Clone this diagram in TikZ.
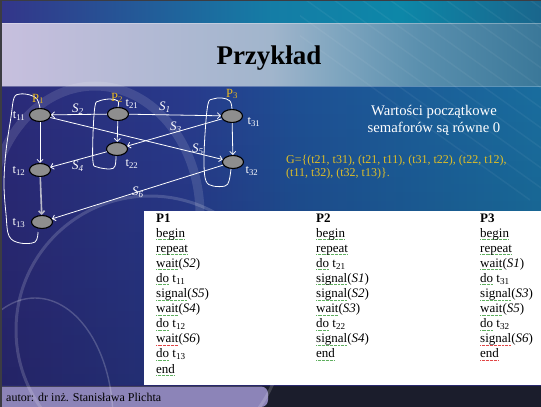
\documentclass[tikz,border=0pt]{standalone}
\usepackage{fontspec}
\setmainfont{Liberation Serif}
\usetikzlibrary{shapes.geometric,arrows.meta,fadings}

\definecolor{sqgreen}{RGB}{95,175,95}
\definecolor{sqred}{RGB}{225,70,70}
\definecolor{plabel}{RGB}{232,184,32}
\definecolor{gtext}{RGB}{222,190,40}
\definecolor{nodegray}{RGB}{142,142,142}
\definecolor{framegray}{RGB}{60,60,66}
\definecolor{footbg}{RGB}{140,132,184}
\definecolor{bottombg}{RGB}{27,29,44}
\definecolor{bottomedge}{RGB}{40,40,110}
\definecolor{seqline}{RGB}{185,185,200}

% spell-check style dotted underlines
\newsavebox\sqbox
\newcommand\sqline[2]{\leavevmode\sbox\sqbox{#2}\rlap{\raisebox{-2.6pt}[0pt][0pt]{\textcolor{#1}{\hbox to \wd\sqbox{\xleaders\hbox{\rule{0.8pt}{0.6pt}\kern0.5pt}\hfill}}}}\usebox\sqbox}
\newcommand\sqg[1]{\sqline{sqgreen}{#1}}
\newcommand\sqr[1]{\sqline{sqred}{#1}}

% slide background gradients (visible part is 25bp..75bp)
\pgfdeclarehorizontalshading{topband}{100bp}{rgb(0bp)=(0.20,0.21,0.54); rgb(25bp)=(0.20,0.21,0.54); rgb(50bp)=(0.08,0.49,0.65); rgb(62bp)=(0.05,0.53,0.66); rgb(75bp)=(0.10,0.40,0.55); rgb(100bp)=(0.10,0.40,0.55)}
\pgfdeclarehorizontalshading{titleband}{100bp}{rgb(0bp)=(0.78,0.75,0.87); rgb(25bp)=(0.78,0.75,0.87); rgb(50bp)=(0.63,0.71,0.80); rgb(56bp)=(0.50,0.65,0.75); rgb(64bp)=(0.35,0.56,0.68); rgb(75bp)=(0.23,0.47,0.60); rgb(100bp)=(0.23,0.47,0.60)}
\pgfdeclarehorizontalshading{mainbg}{100bp}{rgb(0bp)=(0.17,0.165,0.47); rgb(25bp)=(0.17,0.165,0.47); rgb(42bp)=(0.16,0.23,0.55); rgb(52bp)=(0.12,0.31,0.58); rgb(75bp)=(0.10,0.43,0.62); rgb(100bp)=(0.10,0.43,0.62)}

\begin{document}
\begin{tikzpicture}[x=1pt,y=-1pt,
  tnode/.style={ellipse, draw=black, line width=1.1pt, fill=nodegray, minimum width=21pt, minimum height=13pt, inner sep=0pt},
  edge/.style={white, line width=0.8pt, -{Straight Barb[length=3pt,width=6pt]}},
  loopline/.style={white, line width=0.8pt},
  tlab/.style={white, font=\fontsize{12.5}{14}\selectfont, inner sep=0pt},
  slab/.style={white, font=\fontsize{13}{15}\selectfont\itshape, inner sep=0pt},
  plab/.style={plabel, font=\fontsize{12.5}{14}\selectfont, inner sep=0pt},
  code/.style={black, font=\fontsize{13}{15}\selectfont, inner sep=0pt, anchor=base west},
]
\useasboundingbox (0,0) rectangle (541,407);

% frame and bands
\fill[framegray] (0,0) rectangle (541,407);
\shade[shading=topband] (2,1) rectangle (541,23);
\shade[shading=titleband] (2,23) rectangle (541,86);
\shade[shading=mainbg] (2,86) rectangle (541,385);
\fill[black, fill opacity=0.15, path fading=north] (2,86) rectangle (541,385);
\draw[white, opacity=0.3, line width=0.6pt] (2,23) -- (541,23);
\draw[white, opacity=0.3, line width=0.6pt] (2,86) -- (541,86);
\fill[bottombg] (2,385) rectangle (541,407);
\draw[bottomedge, line width=1pt] (2,385.5) -- (541,385.5);

% diagonal streaks on the right
\begin{scope}
  \clip (300,1) rectangle (541,210);
  \foreach \k in {0,...,10}
    \draw[white, opacity=0.05, line width=1.5pt] (250+28*\k,0) -- (530+28*\k,200);
\end{scope}

% footer box
\fill[footbg] (2,407) -- (2,386.5) {[rounded corners=7pt] -- (268,386.5) -- (268,407)} -- cycle;

% decorative rings
\begin{scope}
  \clip (2,86) rectangle (541,407);
  \draw[white, opacity=0.16, line width=3pt] (150,330) circle[radius=134pt];
  \draw[white, opacity=0.2, line width=1.4pt] (35,420) ellipse[x radius=78pt, y radius=122pt];
\end{scope}
\begin{scope}
  \clip (2,80) rectangle (541,250);
  \draw[white, opacity=0.12, line width=9pt] (95,215) ellipse[x radius=105pt, y radius=129pt];
\end{scope}

% code panel
\fill[white] (144,211) rectangle (541,385);

% title
\node[font=\fontsize{27}{30}\selectfont\bfseries, anchor=base, inner sep=0pt] (title) at (269,64) {Przykład};

% process graph
\node[tnode] (t11) at (40,115) {};
\node[tnode] (t21) at (118,114) {};
\node[tnode] (t31) at (232,116) {};
\node[tnode] (t22) at (117,149) {};
\node[tnode] (t12) at (40,170) {};
\node[tnode] (t32) at (233,162) {};
\node[tnode] (t13) at (42,222) {};

\draw[edge] (t21) -- (t11);
\draw[edge] (t21) -- (t31);
\draw[edge] (t31) -- (t22);
\draw[edge] (t11) -- (t32);
\draw[edge] (t22) -- (t12);
\draw[edge] (t32) -- (t13);
\draw[edge] (t11) -- (t12);
\draw[edge] (t21) -- (t22);
\draw[edge] (t31) -- (t32);
\draw[edge, seqline, line width=1.6pt] (t12) -- (t13);

% process outlines
\draw[loopline] plot[smooth, tension=0.6] coordinates {(40,108) (37,99) (30,95) (20,94) (14,98) (11,117) (6,151) (4,184) (6,214) (9,236) (20,243) (35,242) (38,232)};
\draw[loopline] plot[smooth, tension=0.6] coordinates {(118,107) (118,101) (110,99) (99,101) (95,106) (93,134) (93,162) (97,167) (110,169) (115,166) (116,156)};
\draw[loopline] plot[smooth, tension=0.6] coordinates {(232,109) (230,101) (222,98) (213,99) (208,104) (205,134) (204,164) (206,181) (213,186) (225,186) (229,181) (231,169)};

% transition labels
\node[tlab] (lt11) at (19,116) {t\textsubscript{11}};
\node[tlab] (lt21) at (132,104) {t\textsubscript{21}};
\node[tlab] (lt31) at (254,122) {t\textsubscript{31}};
\node[tlab] (lt22) at (132,164) {t\textsubscript{22}};
\node[tlab] (lt12) at (19,171) {t\textsubscript{12}};
\node[tlab] (lt32) at (252,171) {t\textsubscript{32}};
\node[tlab] (lt13) at (19,223) {t\textsubscript{13}};

% process labels
\node[plab] (p1) at (38,99) {P\textsubscript{1}};
\node[plab] (p2) at (117,98) {P\textsubscript{2}};
\node[plab] (p3) at (232,94) {P\textsubscript{3}};

% semaphore labels
\node[slab] (s2) at (78,109) {S\textsubscript{2}};
\node[slab] (s1) at (165,107) {S\textsubscript{1}};
\node[slab] (s3) at (176,127) {S\textsubscript{3}};
\node[slab] (s5) at (198,149) {S\textsubscript{5}};
\node[slab] (s4) at (78,166) {S\textsubscript{4}};
\node[slab] (s6) at (138,192) {S\textsubscript{6}};

% notes on the right
\node[white, font=\fontsize{14.7}{17}\selectfont, anchor=base, inner sep=0pt] (init1) at (434,115) {Wartości początkowe};
\node[white, font=\fontsize{14.7}{17}\selectfont, anchor=base, inner sep=0pt] (init2) at (434,132) {semaforów są równe 0};
\node[gtext, font=\fontsize{12}{13}\selectfont, anchor=base west, inner sep=0pt] (g1) at (286,163) {G=\{(t21, t31), (t21, t11), (t31, t22), (t22, t12),};
\node[gtext, font=\fontsize{12}{13}\selectfont, anchor=base west, inner sep=0pt] (g2) at (286,176) {(t11, t32), (t32, t13)\}.};

% process code
\foreach \s [count=\i from 0] in {\textbf{P1}, \sqg{begin}, \sqg{repeat}, \sqg{wait}(\textit{S2}), \sqg{do} t\textsubscript{11}, \sqg{signal}(\textit{S5}), \sqg{wait}(\textit{S4}), \sqg{do} t\textsubscript{12}, \sqr{wait}(\textit{S6}), \sqg{do} t\textsubscript{13}, \sqg{end}}
  \node[code] (pa\i) at (156,{222+15.1*\i}) {\s};
\foreach \s [count=\i from 0] in {\textbf{P2}, \sqg{begin}, \sqg{repeat}, \sqg{do} t\textsubscript{21}, \sqg{signal}(\textit{S1}), \sqg{signal}(\textit{S2}), \sqg{wait}(\textit{S3}), \sqg{do} t\textsubscript{22}, \sqg{signal}(\textit{S4}), \sqg{end}}
  \node[code] (pb\i) at (316,{222+15.1*\i}) {\s};
\foreach \s [count=\i from 0] in {\textbf{P3}, \sqg{begin}, \sqg{repeat}, \sqg{wait}(\textit{S1}), \sqg{do} t\textsubscript{31}, \sqg{signal}(\textit{S3}), \sqg{wait}(\textit{S5}), \sqg{do} t\textsubscript{32}, \sqr{signal}(\textit{S6}), \sqr{end}}
  \node[code] (pc\i) at (480,{222+15.1*\i}) {\s};

% footer
\node[black, font=\fontsize{12}{14}\selectfont, anchor=base west, inner sep=0pt] (author) at (6,401) {autor: dr inż. Stanisława Plichta};
\end{tikzpicture}
\end{document}
